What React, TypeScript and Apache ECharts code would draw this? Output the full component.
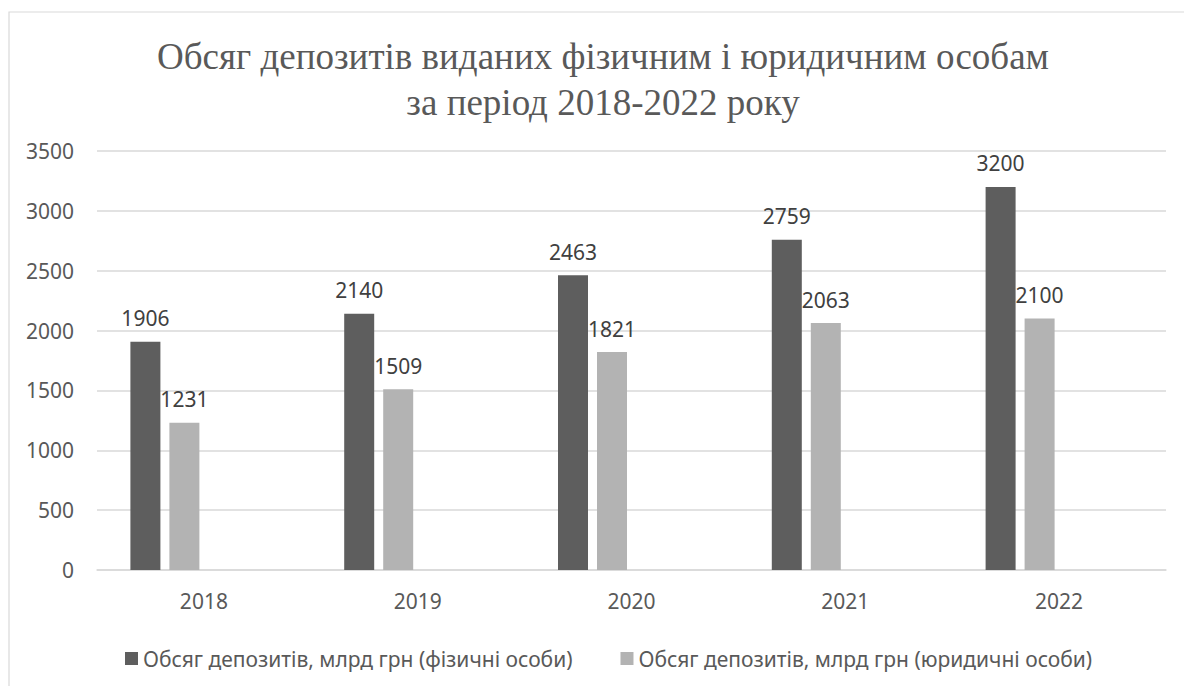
import React, { useEffect, useRef } from "react";
import * as echarts from "echarts";

const titleLines = [
  "Обсяг депозитів виданих фізичним і юридичним особам",
  "за період 2018-2022 року",
];
const categories = ["2018", "2019", "2020", "2021", "2022"];
const seriesNames = [
  "Обсяг депозитів, млрд грн (фізичні особи)",
  "Обсяг депозитів, млрд грн (юридичні особи)",
];
const individuals = [1906, 2140, 2463, 2759, 3200];
const legalEntities = [1231, 1509, 1821, 2063, 2100];
const emptySlots = ["-", "-", "-", "-", "-"];

const FONT = "'Noto Sans', sans-serif";

export default function App() {
  const ref = useRef<HTMLDivElement>(null);
  useEffect(() => {
    document.body.style.margin = "0";
    if (!ref.current) return;
    const chart = echarts.init(ref.current, undefined, { renderer: "svg" });
    const label = {
      show: true,
      position: "top",
      distance: 13,
      color: "#404040",
      fontFamily: FONT,
      fontSize: 21,
    };
    chart.setOption({
      animation: false,
      backgroundColor: "#ffffff",
      title: {
        text: titleLines.join("\n"),
        left: 598,
        top: 28,
        textAlign: "center",
        textStyle: {
          fontFamily: "'Liberation Serif', serif",
          fontWeight: "normal",
          fontSize: 37,
          lineHeight: 46,
          color: "#595959",
        },
      },
      graphic: [
        {
          type: "rect",
          shape: { x: 9, y: 12, width: 1300, height: 800 },
          style: { fill: "none", stroke: "#d9d9d9", lineWidth: 1.2 },
          silent: true,
        },
      ],
      legend: {
        data: seriesNames,
        left: 120,
        top: 643,
        itemWidth: 13,
        itemHeight: 13,
        itemGap: 48,
        itemTextGap: 5,
        icon: "rect",
        textStyle: { fontFamily: FONT, fontSize: 21, color: "#595959" },
      },
      grid: { left: 97, right: 18, top: 151, bottom: 116 },
      xAxis: {
        type: "category",
        data: categories,
        axisLine: { lineStyle: { color: "#d9d9d9", width: 1.5 } },
        axisTick: { show: false },
        axisLabel: { margin: 20, fontFamily: FONT, fontSize: 21, color: "#595959" },
      },
      yAxis: {
        type: "value",
        min: 0,
        max: 3500,
        interval: 500,
        axisLine: { show: false },
        axisTick: { show: false },
        splitLine: { lineStyle: { color: "#d9d9d9", width: 1.5 } },
        axisLabel: {
          margin: 23,
          fontFamily: FONT,
          fontSize: 21,
          color: "#595959",
          formatter: (v: number) => String(v),
        },
      },
      series: [
        {
          name: seriesNames[0],
          type: "bar",
          data: individuals,
          barWidth: 30,
          barGap: "30%",
          itemStyle: { color: "#5e5e5e" },
          label,
        },
        {
          name: seriesNames[1],
          type: "bar",
          data: legalEntities,
          barWidth: 30,
          barGap: "30%",
          itemStyle: { color: "#b3b3b3" },
          label,
        },
        {
          name: "empty3",
          type: "bar",
          data: emptySlots,
          barWidth: 30,
          barGap: "30%",
        },
        {
          name: "empty4",
          type: "bar",
          data: emptySlots,
          barWidth: 30,
          barGap: "30%",
        },
      ],
    });
    return () => chart.dispose();
  }, []);
  return <div ref={ref} style={{ width: 1184, height: 686 }} />;
}
